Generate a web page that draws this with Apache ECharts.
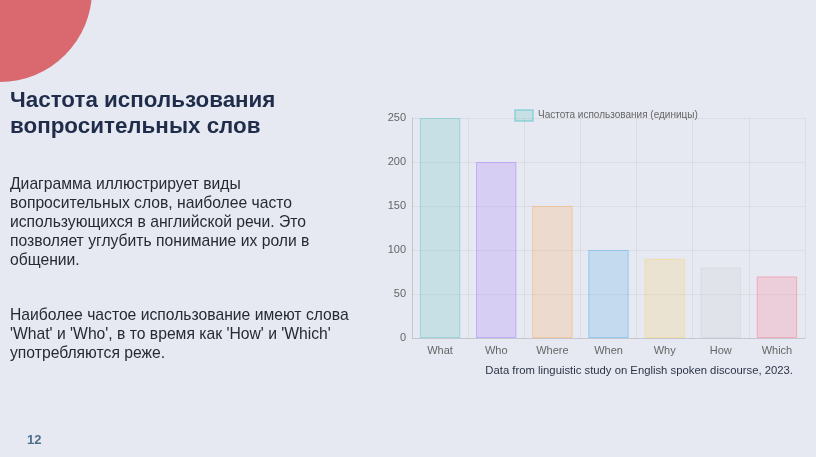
<!DOCTYPE html>
<html><head><meta charset="utf-8">
<script src="https://cdn.jsdelivr.net/npm/echarts@6/dist/echarts.min.js"></script>
<style>
html,body{margin:0;padding:0;width:816px;height:457px;overflow:hidden;background:#e6e9f1;font-family:"Liberation Sans",Arial,sans-serif;}
#circle{position:absolute;left:-92px;top:-102px;width:184px;height:184px;border-radius:50%;background:#d9686f;}
#chart{position:absolute;left:0;top:0;width:816px;height:457px;}
.t{position:absolute;left:10px;color:#1f2d4b;font-weight:bold;font-size:22.4px;line-height:26px;top:87px;margin:0;white-space:nowrap;}
.p{position:absolute;left:10px;color:#252a33;font-size:15.7px;line-height:19px;margin:0;}
#num{position:absolute;left:27px;top:432px;font-size:13px;font-weight:bold;color:#4d6d8c;}
</style></head>
<body>
<div id="circle"></div>
<div id="chart"></div>
<div class="t">Частота использования<br>вопросительных слов</div>
<div class="p" style="top:174px;width:300px">Диаграмма иллюстрирует виды вопросительных слов, наиболее часто использующихся в английской речи. Это позволяет углубить понимание их роли в общении.</div>
<div class="p" style="top:305px;width:360px">Наиболее частое использование имеют слова 'What' и 'Who', в то время как 'How' и 'Which' употребляются реже.</div>
<div id="num">12</div>
<script>
const categories = ['What','Who','Where','When','Why','How','Which'];
const values = [250,200,150,100,90,80,70];
const fills = ['rgba(75,192,192,0.2)','rgba(153,102,255,0.2)','rgba(255,159,64,0.2)','rgba(54,162,235,0.2)','rgba(255,205,86,0.2)','rgba(201,203,207,0.2)','rgba(255,99,132,0.2)'];
const borders = ['rgba(75,192,192,0.4)','rgba(153,102,255,0.4)','rgba(255,159,64,0.4)','rgba(54,162,235,0.4)','rgba(255,205,86,0.4)','rgba(201,203,207,0.4)','rgba(255,99,132,0.4)'];
const seriesName = 'Частота использования (единицы)';
const caption = 'Data from linguistic study on English spoken discourse, 2023.';

const chart = echarts.init(document.getElementById('chart'));
chart.setOption({
  animation:false,
  textStyle:{fontFamily:'Liberation Sans, Arial, sans-serif'},
  title:{text:caption,right:18,top:360,textStyle:{fontSize:11.3,fontWeight:'normal',color:'#2b3447'}},
  legend:{left:509,top:104,itemWidth:18,itemHeight:11,itemGap:6,icon:'rect',
    textStyle:{fontSize:10,color:'#666'},data:[seriesName]},
  grid:{left:412,right:11,top:118,bottom:119},
  xAxis:{type:'category',data:categories,boundaryGap:true,
    axisLine:{lineStyle:{color:'rgba(0,0,0,0.1)'}},axisTick:{show:false},
    axisLabel:{color:'#666',fontSize:11,margin:7},
    splitLine:{show:true,lineStyle:{color:'rgba(0,0,0,0.05)'}}},
  yAxis:{type:'value',min:0,max:250,interval:50,
    axisLine:{show:true,lineStyle:{color:'rgba(0,0,0,0.1)'}},axisTick:{show:false},
    axisLabel:{color:'#666',fontSize:11,margin:6},
    splitLine:{lineStyle:{color:'rgba(0,0,0,0.05)'}}},
  series:[{type:'bar',name:seriesName,barWidth:'72%',
    itemStyle:{color:fills[0],borderColor:borders[0],borderWidth:1},
    data:values.map((v,i)=>({value:v,itemStyle:{color:fills[i],borderColor:borders[i],borderWidth:1}}))}]
});
</script>
</body></html>
